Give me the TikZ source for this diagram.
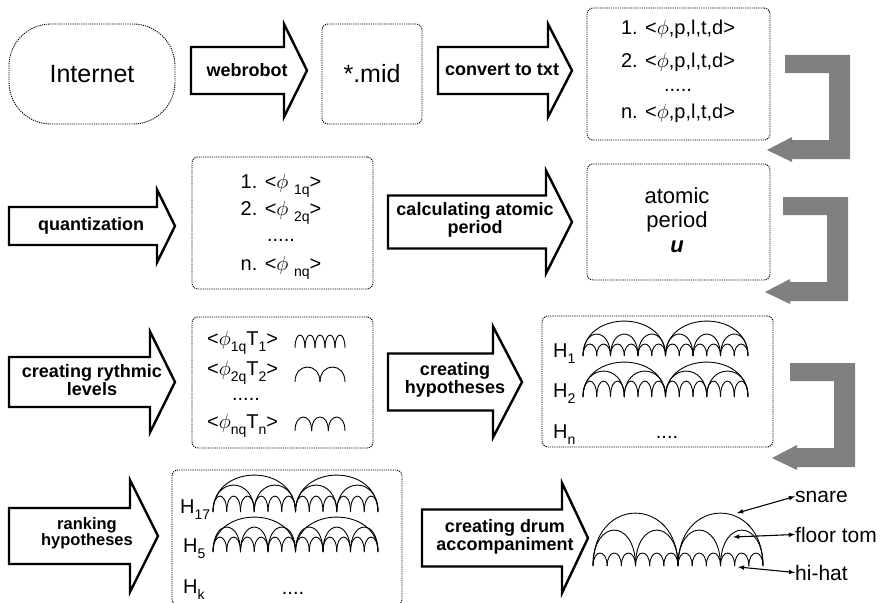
\documentclass[tikz,border=0pt]{standalone}
\usepackage{fontspec}
\setmainfont{Liberation Sans}

\newcommand{\onder}[1]{\raisebox{-6pt}{\fontsize{14}{14}\selectfont #1}}
% blokpijl: staart x, kop x, punt x, midden y, halve schacht, halve kop
\newcommand{\blokpijl}[6]{%
  \draw[blok] (#1,{#4-#5}) -- (#2,{#4-#5}) -- (#2,{#4-#6}) -- (#3,#4)
    -- (#2,{#4+#6}) -- (#2,{#4+#5}) -- (#1,{#4+#5}) -- cycle;}
% terugpijl: grijze haakpijl, linksboven op #1
\newcommand{\terugpijl}[1]{%
  \fill[terug, shift={#1}] (0,0) -- (65,0) -- (65,104) -- (7,104) -- (7,107)
    -- (-18,95) -- (7,82) -- (7,85) -- (44,85) -- (44,18) -- (0,18) -- cycle;}
% bogen: start x, basis y, breedte, aantal, hoogte
\newcommand{\bogen}[5]{%
  \foreach \i in {1,...,#4}{%
    \pgfmathsetmacro{\xa}{#1+(\i-1)*#3/#4}
    \pgfmathsetmacro{\xb}{#1+\i*#3/#4}
    \draw[boog] (\xa,#2) .. controls (\xa,{#2-1.33*#5}) and (\xb,{#2-1.33*#5}) .. (\xb,#2);
  }}

\begin{document}
\begin{tikzpicture}[>=latex, x=1pt, y=-1pt]

% --- Stijldefinities ---
\tikzset{
    kader/.style={
        draw,
        line width=0.9pt,
        dash pattern=on 1.2pt off 1pt,
        rounded corners=6pt,
        inner sep=0pt
    },
    blok/.style={draw=black, fill=white, line width=2.4pt, line join=miter},
    pijltekst/.style={font=\fontsize{18}{16}\bfseries\selectfont, align=center, inner sep=0pt},
    tekst/.style={font=\fontsize{20}{22}\selectfont, inner sep=0pt, anchor=base},
    groot/.style={font=\fontsize{25}{28}\selectfont},
    boog/.style={line width=0.9pt},
    terug/.style={fill=black!50},
    drumnaam/.style={font=\fontsize{21}{24}\selectfont, inner sep=0pt, anchor=base west},
    verbind/.style={<->, line width=1.1pt}
}

\path[use as bounding box, fill=white] (0,0) rectangle (888,602);

% --- Rij 1 ---
\node[kader, groot, rounded corners=42pt, minimum width=166, minimum height=100] (internet) at (92,74) {Internet};
\blokpijl{191}{284}{307}{70.5}{23.5}{46.5}
\node[pijltekst] (webrobot) at (247,70) {webrobot};
\node[kader, groot, minimum width=100, minimum height=100] (mid) at (372,74) {*.mid};
\blokpijl{438}{548}{572}{70.5}{23.5}{46.5}
\node[pijltekst] (convert) at (502,70) {convert to txt};
\node[kader, minimum width=183, minimum height=132] (lijst1) at (678.5,74) {};
\node[tekst] (l1a) at (678,35) {1. <$\phi$,p,l,t,d>};
\node[tekst] (l1b) at (678,67) {2. <$\phi$,p,l,t,d>};
\node[tekst] (l1c) at (678,92) {.....};
\node[tekst] (l1d) at (678,118) {n. <$\phi$,p,l,t,d>};
\terugpijl{(785,55)}

% --- Rij 2 ---
\blokpijl{9}{157}{175}{226}{19}{36.5}
\node[pijltekst] (quant) at (91,226) {quantization};
\node[kader, minimum width=181, minimum height=132] (lijst2) at (282.5,223) {};
\node[tekst] (l2a) at (281,188) {1. <$\phi$ \onder{1q}>};
\node[tekst] (l2b) at (281,215) {2. <$\phi$ \onder{2q}>};
\node[tekst] (l2c) at (281,241) {.....};
\node[tekst] (l2d) at (281,270) {n. <$\phi$ \onder{nq}>};
\blokpijl{388}{546}{572}{222}{26.5}{51.5}
\node[pijltekst] (atoompijl) at (475,220) {calculating atomic\\period};
\node[kader, minimum width=183, minimum height=116] (atoom) at (678.5,222) {};
\node[tekst, font=\fontsize{22}{24}\selectfont] (a1) at (677,203) {atomic};
\node[tekst, font=\fontsize{22}{24}\selectfont] (a2) at (677,227) {period};
\node[tekst, font=\fontsize{22}{24}\selectfont\bfseries\itshape] (a3) at (677,252) {u};
\terugpijl{(783,197)}

% --- Rij 3 ---
\blokpijl{9}{150}{175}{382}{25}{50.5}
\node[pijltekst] (niveaus) at (92,380) {creating rythmic\\levels};
\node[kader, minimum width=181, minimum height=131] (lijst3) at (282.5,382.5) {};
\node[tekst, anchor=base west] (l3a) at (207,345) {<$\phi$\onder{1q}T\onder{1}>};
\node[tekst, anchor=base west] (l3b) at (207,375) {<$\phi$\onder{2q}T\onder{2}>};
\node[tekst] (l3c) at (246,400) {.....};
\node[tekst, anchor=base west] (l3d) at (207,428) {<$\phi$\onder{nq}T\onder{n}>};
\bogen{295}{348}{50}{5}{13}
\bogen{295}{382}{50}{2}{15}
\bogen{295}{431}{50}{3}{14}
\blokpijl{388}{493}{522}{382}{28.5}{55.5}
\node[pijltekst] (hyp) at (455,380) {creating\\hypotheses};
\node[kader, minimum width=231, minimum height=131] (hyp1) at (657.5,381.5) {};
\node[tekst, anchor=base west] (h1) at (553,357) {H\onder{1}};
\node[tekst, anchor=base west] (h2) at (553,397) {H\onder{2}};
\node[tekst, anchor=base west] (hn) at (553,438) {H\onder{n}};
\node[tekst] (hdots) at (667,438) {....};
\bogen{583}{356}{165}{2}{35}
\bogen{583}{356}{165}{6}{22}
\bogen{583}{356}{165}{12}{12}
\bogen{583}{397}{165}{2}{35}
\bogen{583}{397}{165}{4}{26}
\bogen{583}{397}{165}{12}{16}
\terugpijl{(790,363)}

% --- Rij 4 ---
\blokpijl{9}{130}{158}{536}{28}{56}
\node[pijltekst, font=\fontsize{16.5}{16}\bfseries\selectfont] (rang) at (87,533) {ranking\\hypotheses};
\node[kader, minimum width=230, minimum height=135] (hyp2) at (287,537.5) {};
\node[tekst, anchor=base west] (h17) at (180,513) {H\onder{17}};
\node[tekst, anchor=base west] (h5) at (183,552) {H\onder{5}};
\node[tekst, anchor=base west] (hk) at (183,593) {H\onder{k}};
\node[tekst] (hkdots) at (293,594) {....};
\bogen{213}{512}{165}{2}{37}
\bogen{213}{512}{165}{4}{27}
\bogen{213}{512}{165}{12}{16}
\bogen{213}{552}{165}{2}{35}
\bogen{213}{552}{165}{6}{25}
\bogen{213}{552}{165}{12}{15}
\blokpijl{422}{562}{588}{538}{28.5}{55}
\node[pijltekst] (drum) at (505,537) {creating drum\\accompaniment};

% --- Drumpatroon ---
\bogen{593}{566}{170}{2}{53}
\bogen{593}{566}{170}{4}{36}
\bogen{593}{566}{170}{12}{13}
\node[drumnaam] (snare) at (795,502) {snare};
\node[drumnaam] (tom) at (795,542) {floor tom};
\node[drumnaam] (hihat) at (795,580) {hi-hat};
\coordinate (snarept) at (737,513);
\coordinate (tompt) at (733,537);
\coordinate (hihatpt) at (738,567);
\draw[verbind] (snarept) -- (snare.west);
\draw[verbind] (tompt) -- (tom.west);
\draw[verbind] (hihatpt) -- (hihat.west);
\end{tikzpicture}
\end{document}
